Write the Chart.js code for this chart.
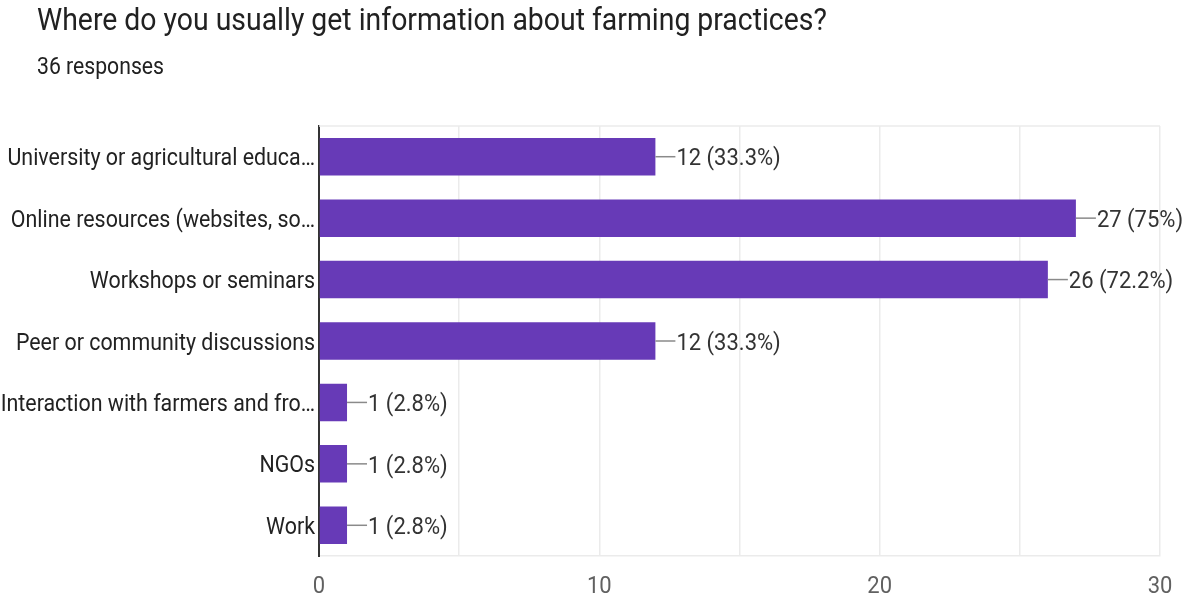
<!DOCTYPE html>
<html>
<head>
<meta charset="utf-8">
<script src="https://cdn.jsdelivr.net/npm/chart.js@4.4.1/dist/chart.umd.min.js"></script>
<style>
  html, body { margin: 0; padding: 0; background: #fff; }
  canvas { display: block; }
</style>
</head>
<body>
<canvas id="c" width="1187" height="597"></canvas>
<script>
const chartTitle = "Where do you usually get information about farming practices?";
const chartSubtitle = "36 responses";
const categories = [
  "University or agricultural educa…",
  "Online resources (websites, so…",
  "Workshops or seminars",
  "Peer or community discussions",
  "Interaction with farmers and fro…",
  "NGOs",
  "Work"
];
const counts = [12, 27, 26, 12, 1, 1, 1];
const percents = ["33.3%", "75%", "72.2%", "33.3%", "2.8%", "2.8%", "2.8%"];
const xTicks = [0, 10, 20, 30];

const BAR = "#673ab7";
const FONT = "Roboto, sans-serif";
const STRETCH = 1.12;   // text is drawn slightly taller than wide
const CAP = 0.711;      // Roboto cap height / em

function tallText(ctx, text, x, baseline, size, color, align) {
  ctx.save();
  ctx.font = size + "px " + FONT;
  ctx.fillStyle = color;
  ctx.textAlign = align;
  ctx.textBaseline = "alphabetic";
  ctx.translate(x, baseline);
  ctx.scale(1, STRETCH);
  ctx.fillText(text, 0, 0);
  ctx.restore();
}

// headings, category names, tick numbers and value labels
const texts = {
  id: "texts",
  afterDraw(chart) {
    const ctx = chart.ctx;
    const a = chart.chartArea;
    const xs = chart.scales.x, ys = chart.scales.y;

    tallText(ctx, chartTitle, 37, 30, 28.4, "#212121", "left");
    tallText(ctx, chartSubtitle, 37, 74, 21.2, "#212121", "left");

    const ySize = 21.4;
    categories.forEach((c, i) => {
      const y = ys.getPixelForValue(i);
      tallText(ctx, c, a.left - 4, y + CAP * ySize * STRETCH / 2, ySize, "#222", "right");
    });

    xTicks.forEach(v => {
      tallText(ctx, String(v), xs.getPixelForValue(v), 593, 22, "#616161", "center");
    });

    const meta = chart.getDatasetMeta(0);
    const vSize = 22;
    meta.data.forEach((bar, i) => {
      ctx.save();
      ctx.strokeStyle = "#8a8a8a";
      ctx.lineWidth = 1.5;
      ctx.beginPath();
      ctx.moveTo(bar.x, bar.y);
      ctx.lineTo(bar.x + 20, bar.y);
      ctx.stroke();
      ctx.restore();
      tallText(ctx, counts[i] + " (" + percents[i] + ")", bar.x + 21,
        bar.y + CAP * vSize * STRETCH / 2, vSize, "#333", "left");
    });
  }
};

// light frame along the top of the plot area
const plotFrame = {
  id: "plotFrame",
  beforeDatasetsDraw(chart) {
    const a = chart.chartArea, ctx = chart.ctx;
    ctx.save();
    ctx.strokeStyle = "#ebebeb";
    ctx.lineWidth = 1.5;
    ctx.beginPath();
    ctx.moveTo(a.left, a.top);
    ctx.lineTo(a.right, a.top);
    ctx.stroke();
    ctx.restore();
  }
};

new Chart(document.getElementById("c"), {
  type: "bar",
  data: {
    labels: categories,
    datasets: [{
      data: counts,
      backgroundColor: BAR,
      borderWidth: 0,
      categoryPercentage: 1,
      barPercentage: 0.61
    }]
  },
  options: {
    indexAxis: "y",
    responsive: false,
    animation: false,
    devicePixelRatio: 1,
    layout: { padding: { top: 126, right: 27, bottom: 0, left: 0 } },
    plugins: { legend: { display: false }, tooltip: { enabled: false }, title: { display: false } },
    scales: {
      x: {
        min: 0, max: 30,
        ticks: { stepSize: 5, autoSkip: false, display: false },
        grid: { color: "#ebebeb", lineWidth: 1.5, drawTicks: false },
        border: { color: "#ebebeb", width: 1.5 },
        afterFit: s => { s.height = 41; }
      },
      y: {
        ticks: { display: false },
        grid: { display: false, drawTicks: false },
        border: { color: "#333", width: 2 },
        afterFit: s => { s.width = 319; }
      }
    }
  },
  plugins: [plotFrame, texts]
});
</script>
</body>
</html>
